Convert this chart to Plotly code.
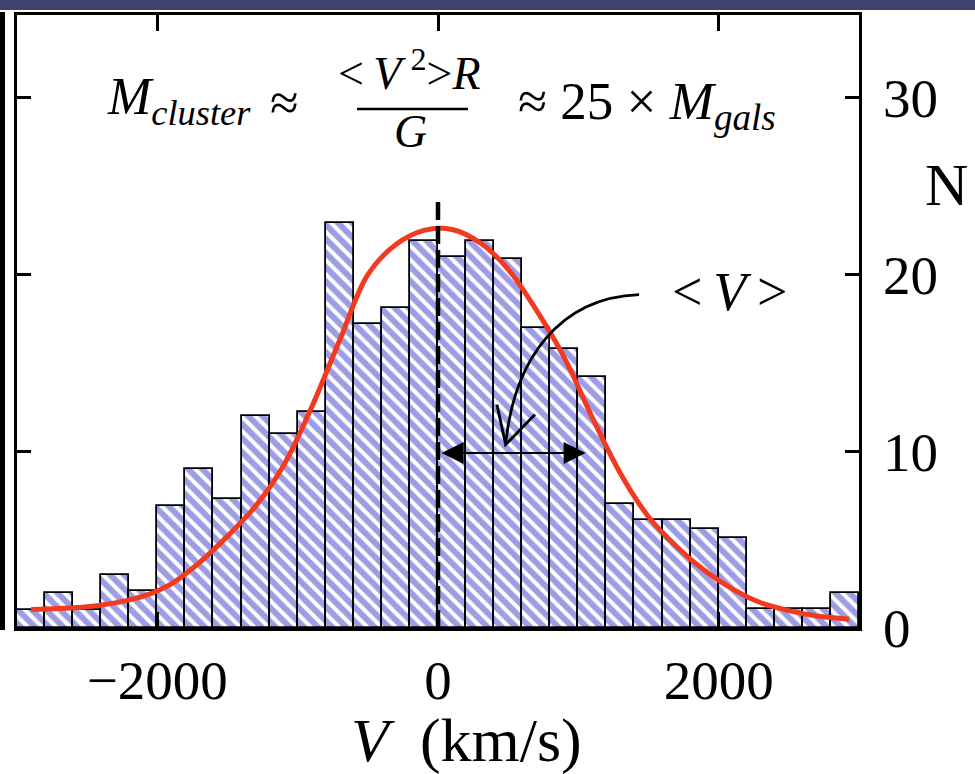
import plotly.graph_objects as go

# ---- data ----
bin_width = 200
bin_centers = list(range(-2900, 3000, 200))
counts = [1.0, 2.0, 1.0, 3.0, 2.1, 6.9, 9.0, 7.3, 12.0, 11.0,
          12.2, 22.9, 17.2, 18.1, 21.9, 21.0, 21.9, 20.9, 17.0, 15.8,
          14.2, 7.0, 6.1, 6.1, 5.6, 5.1, 1.1, 1.1, 1.1, 2.0]

fit_v = [-2900, -2700, -2500, -2300, -2100, -1900, -1700, -1500, -1300, -1100,
         -900, -700, -500, -300, -100, 100, 300, 500, 700, 900,
         1100, 1300, 1500, 1700, 1900, 2100, 2300, 2500, 2700, 2930]
fit_n = [1.04, 1.1, 1.2, 1.42, 1.8, 2.5, 3.7, 5.2, 6.9, 9.2,
         12.5, 16.3, 20.0, 21.7, 22.5, 22.55, 21.8, 20.3, 18.0, 15.3,
         11.9, 8.75, 6.3, 4.6, 3.25, 2.2, 1.43, 0.98, 0.68, 0.5]

x_ticks = [-2000, 0, 2000]
y_ticks = [0, 10, 20, 30]
mean_line_top = 24.3
sigma_arrow = [15, 1052, 9.9]   # from, to, height

SERIF = "Liberation Serif"

W, H = 975, 774
L, R, T, B = 17, 116, 15, 146
PW, PH = W - L - R, H - T - B


def px(x):
    return (x - L) / PW


def py(y):
    return (H - B - y) / PH


fig = go.Figure()
fig.add_trace(go.Bar(
    x=bin_centers, y=counts, width=bin_width,
    marker=dict(color="white",
                line=dict(color="black", width=1.8),
                pattern=dict(shape="\\", fgcolor="#3a3ad0", bgcolor="white",
                             size=10, solidity=0.6)),
    showlegend=False, hoverinfo="skip"))
fig.add_trace(go.Scatter(
    x=fit_v, y=fit_n, mode="lines",
    line=dict(color="#f23a1f", width=5, shape="spline"),
    showlegend=False, hoverinfo="skip"))

shapes = [
    dict(type="line", xref="x", yref="y", x0=0, x1=0, y0=0, y1=mean_line_top,
         line=dict(color="black", width=4.5, dash="18px,6px"), layer="above"),
    # curved arrow from <V>
    dict(type="path", xref="x", yref="y",
         path="M 1433 18.87 C 862 18.7, 541 15.19, 482 10.38",
         line=dict(color="black", width=2.8)),
    dict(type="path", xref="x", yref="y",
         path="M 420 12.64 L 482 10.38 L 691 12.08",
         line=dict(color="black", width=2.8)),
    # fraction bar
    dict(type="line", xref="paper", yref="paper", x0=px(357), x1=px(468),
         y0=py(109), y1=py(109), line=dict(color="black", width=2.5)),
    # decorations outside the plot
    dict(type="rect", xref="paper", yref="paper", x0=px(0), x1=px(5),
         y0=py(630), y1=py(12), fillcolor="black", line=dict(width=0)),
    dict(type="rect", xref="paper", yref="paper", x0=px(0), x1=px(975),
         y0=py(10), y1=py(0), fillcolor="#414170", line=dict(width=0)),
]

ann = []


def text(x, y, s, size, xanchor="center"):
    ann.append(dict(xref="paper", yref="paper", x=px(x), y=py(y), text=s,
                    showarrow=False, xanchor=xanchor, yanchor="middle",
                    font=dict(family=SERIF, size=size, color="black")))


TS = "\u2009"
text(105, 100, "<i>M<sub>cluster</sub></i>", 52, "left")
text(284, 103, "≈", 52)
text(409, 70, "&lt;" + TS + "<i>V</i>" + TS + "<sup>2</sup>&gt;<i>R</i>", 46)
text(410, 131, "<i>G</i>", 46)
text(516, 105, "≈ 25 × <i>M<sub>gals</sub></i>", 53, "left")
text(730, 292, "&lt;" + TS + "<i>V</i>" + TS + "&gt;", 54)
text(947, 185, "N", 60)
text(466, 740, "<i>V</i>  (km/s)", 62)

# double-headed arrow
ann.append(dict(xref="x", yref="y", axref="x", ayref="y",
                x=sigma_arrow[1], y=sigma_arrow[2], ax=sigma_arrow[0], ay=sigma_arrow[2],
                text="", showarrow=True, arrowhead=2, startarrowhead=2,
                arrowside="end+start", arrowsize=2.2, startarrowsize=2.2,
                arrowwidth=2, arrowcolor="black", standoff=0, startstandoff=0))

fig.update_layout(
    width=W, height=H,
    margin=dict(l=L, r=R, t=T, b=B),
    paper_bgcolor="white", plot_bgcolor="white",
    bargap=0,
    shapes=shapes, annotations=ann,
    xaxis=dict(range=[-3000, 3000], tickvals=x_ticks,
               ticks="inside", ticklen=16, tickwidth=3, tickcolor="black",
               showline=True, linewidth=3, linecolor="black", mirror="ticks",
               showgrid=False, zeroline=False,
               tickfont=dict(family=SERIF, size=55, color="black"),
               ticklabelstandoff=2),
    yaxis=dict(range=[0, PH / 17.67], tickvals=y_ticks, side="right",
               ticks="inside", ticklen=14, tickwidth=3, tickcolor="black",
               showline=True, linewidth=3, linecolor="black", mirror="ticks",
               showgrid=False, zeroline=False,
               tickfont=dict(family=SERIF, size=55, color="black"),
               ticklabelstandoff=10),
)

fig.write_html("out.html", config={"displayModeBar": False},
               post_script="document.body.style.margin='0';document.body.style.overflow='hidden';")
